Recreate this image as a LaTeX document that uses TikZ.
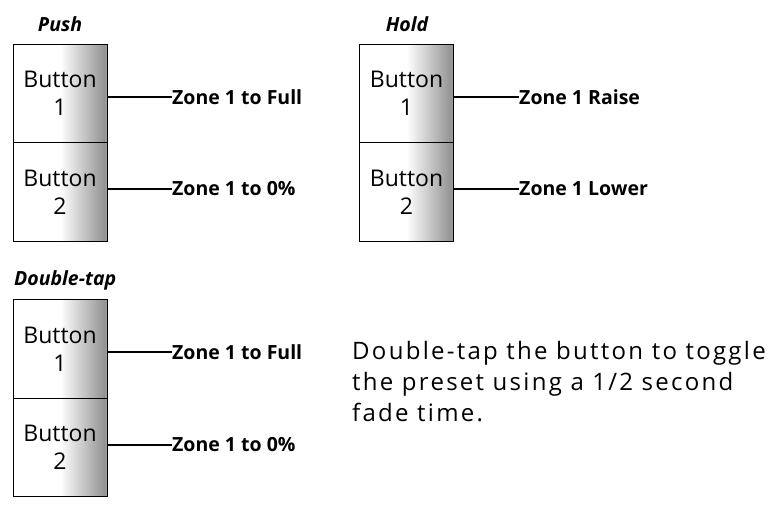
\documentclass[tikz,border=0pt]{standalone}
\usepackage{fontspec}
\setmainfont{Open Sans}
\pgfdeclarehorizontalshading{buttonshade}{100bp}{color(0bp)=(white); color(50bp)=(white);
  color(73.5bp)=(black!42); color(75bp)=(black!36); color(100bp)=(black!36)}
\tikzset{
  button/.style={draw, line width=1pt, minimum width=94pt, minimum height=98.5pt,
    align=center, inner sep=0pt, font=\fontsize{23}{28}\selectfont,
    shade, shading=buttonshade},
  zone/.style={anchor=west, inner sep=0pt, font=\fontsize{19.5}{22}\selectfont\bfseries},
  mode/.style={inner sep=0pt, font=\fontsize{19.5}{22}\selectfont\bfseries\itshape},
  wire/.style={line width=1.6pt},
}
\begin{document}
\begin{tikzpicture}[x=1pt,y=-1pt]
      \useasboundingbox (0,0) rectangle (775,514);
      % push
      \node[mode] (push) at (60,24) {Push};
      \node[button] (pushA) at (60,93.5) {Button\\1};
      \node[button] (pushB) at (60,192) {Button\\2};
      \node[zone] (pushfull) at (172,97) {Zone 1 to Full};
      \node[zone] (pushoff) at (172,189) {Zone 1 to 0\%};
      \draw[wire] (pushfull.west) -- (pushfull.west -| pushA.east);
      \draw[wire] (pushoff.west) -- (pushoff.west -| pushB.east);
      % hold
      \node[mode] (hold) at (407,24) {Hold};
      \node[button] (holdA) at (406.5,93.5) {Button\\1};
      \node[button] (holdB) at (406.5,192) {Button\\2};
      \node[zone] (holdup) at (519,97) {Zone 1 Raise};
      \node[zone] (holddown) at (519,189) {Zone 1 Lower};
      \draw[wire] (holdup.west) -- (holdup.west -| holdA.east);
      \draw[wire] (holddown.west) -- (holddown.west -| holdB.east);
      % double-tap
      \node[mode,anchor=west] (tap) at (14,280) {Double-tap};
      \node[button] (tapA) at (60,349) {Button\\1};
      \node[button] (tapB) at (60,447.5) {Button\\2};
      \node[zone] (tapfull) at (172,352) {Zone 1 to Full};
      \node[zone] (tapoff) at (172,445) {Zone 1 to 0\%};
      \draw[wire] (tapfull.west) -- (tapfull.west -| tapA.east);
      \draw[wire] (tapoff.west) -- (tapoff.west -| tapB.east);
      \node[anchor=north west, inner sep=0pt, align=left,
        font=\fontsize{24}{31}\selectfont\addfontfeatures{LetterSpace=9.5}] (note) at (352,341)
        {Double-tap the button to toggle\\the preset using a 1/2 second\\fade time.};
    \end{tikzpicture}
\end{document}
